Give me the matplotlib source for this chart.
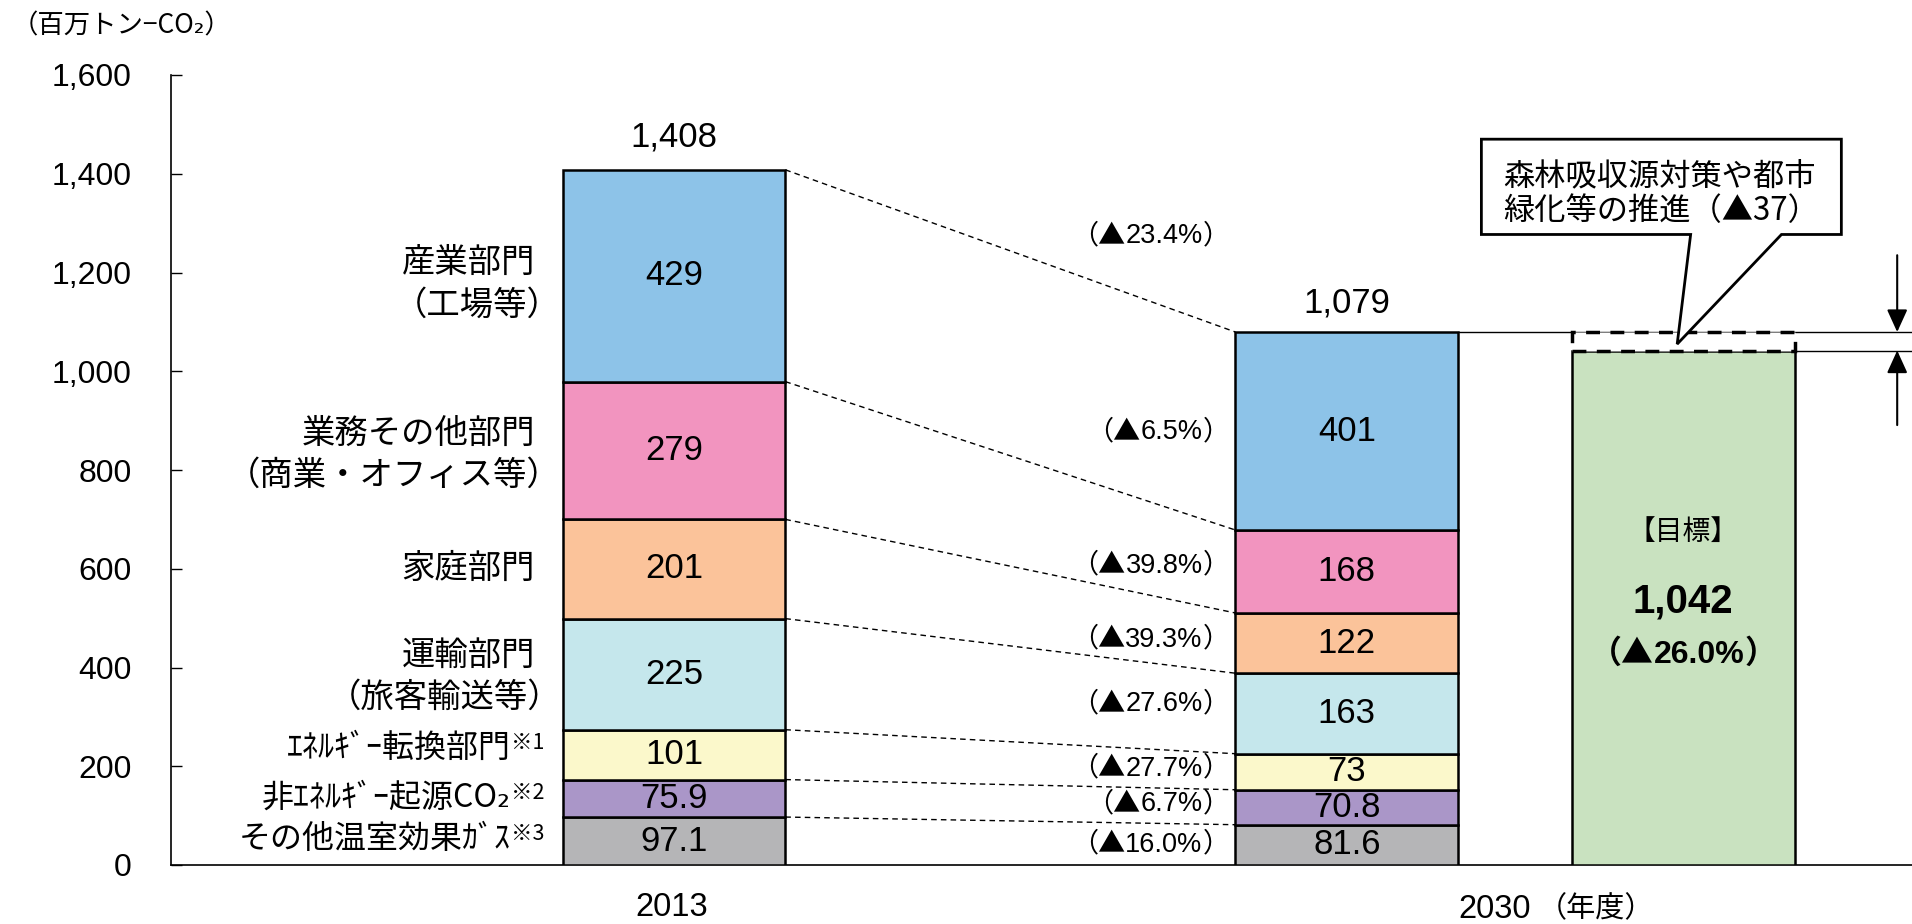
import matplotlib
matplotlib.use('Agg')
import matplotlib.pyplot as plt
from matplotlib.patches import Rectangle, Polygon
from matplotlib.offsetbox import TextArea, HPacker, AnnotationBbox

# ---------------- data ----------------
years = ['2013', '2030']
sectors = ['その他温室効果ｶﾞｽ', '非ｴﾈﾙｷﾞｰ起源CO₂', 'ｴﾈﾙｷﾞｰ転換部門',
           '運輸部門\n（旅客輸送等）', '家庭部門',
           '業務その他部門\n（商業・オフィス等）', '産業部門\n（工場等）']
notes = ['※3', '※2', '※1', '', '', '', '']
values_2013 = [97.1, 75.9, 101, 225, 201, 279, 429]
values_2030 = [81.6, 70.8, 73, 163, 122, 168, 401]
labels_2013 = ['97.1', '75.9', '101', '225', '201', '279', '429']
labels_2030 = ['81.6', '70.8', '73', '163', '122', '168', '401']
reductions = ['16.0%', '6.7%', '27.7%', '27.6%', '39.3%', '39.8%', '6.5%']
total_reduction = '23.4%'
total_2013 = 1408
total_2030 = 1079
target_2030 = 1042
target_reduction = '26.0%'
sink_lines = ['森林吸収源対策や都市', '緑化等の推進（▲37）']
colors = ['#B5B5B7', '#AA96C8', '#FBF8CB', '#C5E7EC', '#FBC39A', '#F294BF', '#8DC3E8']
target_color = '#C9E2C0'

# label positions (y, data units)
sector_label_y = [52, 136, 237, 383, 601, 832, 1177]
reduction_y = [42, 124, 196, 327, 457, 607, 878]
total_reduction_y = 1274

JP = ['Noto Sans CJK JP', 'DejaVu Sans']
NUM = ['Liberation Sans', 'Noto Sans CJK JP', 'DejaVu Sans']

fig = plt.figure(figsize=(19.12, 9.24), dpi=100)
W, H = 1912, 924
ax = fig.add_axes([170.7 / W, 59 / H, (W - 170.7) / W, 790 / H])

x13, x30, xt = 0.0, 1.0, 1.5
bw = 0.331

def stack(x, vals, labels):
    bottom = 0
    tops = []
    for v, lab, c in zip(vals, labels, colors):
        ax.bar(x, v, bottom=bottom, width=bw, color=c, edgecolor='black', linewidth=1.8, zorder=3)
        ax.text(x, bottom + v / 2, lab, ha='center', va='center', fontsize=25, family=NUM, zorder=4)
        bottom += v
        tops.append(bottom)
    return tops

tops13 = stack(x13, values_2013, labels_2013)
tops30 = stack(x30, values_2030, labels_2030)

# connectors
for a, b in zip(tops13, tops30):
    ax.plot([x13 + bw / 2, x30 - bw / 2], [a, b], color='black', lw=1, ls=(0, (4, 3)), zorder=2)

# totals
ax.annotate(f'{total_2013:,}', (x13, tops13[-1]), xytext=(0, 33), textcoords='offset pixels',
            ha='center', va='center', fontsize=25, family=NUM)
ax.annotate(f'{total_2030:,}', (x30, tops30[-1]), xytext=(0, 29), textcoords='offset pixels',
            ha='center', va='center', fontsize=25, family=NUM)

# sector labels (each line right-aligned; full-width ）has a wide right bearing)
x_lab = -0.2065
for s, n, y in zip(sectors, notes, sector_label_y):
    if n:
        ax.annotate(s, (x_lab, y), xytext=(-24, 0), textcoords='offset pixels',
                    ha='right', va='center', fontsize=23, family=JP)
        ax.annotate(n, (x_lab, y), xytext=(-24, 5), textcoords='offset pixels',
                    ha='left', va='center', fontsize=15.5, family=JP)
    else:
        lines = s.split('\n')
        k = len(lines)
        for i, ln in enumerate(lines):
            dy = (k - 1) * 21 - i * 42
            dx = 26 if ln.endswith('）') else 0
            ax.annotate(ln, (x_lab, y), xytext=(dx, dy), textcoords='offset pixels',
                        ha='right', va='center', fontsize=24, family=JP)

# mixed-font reduction labels
def paren_label(x, y, body, size, weight='normal', align=(1, 0.5)):
    jp = dict(family=JP, fontsize=size, fontweight=weight)
    nm = dict(family=['Liberation Sans'], fontsize=size, fontweight=weight)
    box = HPacker(children=[TextArea('（▲', textprops=jp), TextArea(body, textprops=nm),
                            TextArea('）', textprops=jp)],
                  align='baseline', pad=0, sep=0)
    ab = AnnotationBbox(box, (x, y), xycoords='data', box_alignment=align,
                        frameon=False, pad=0, zorder=5)
    ax.add_artist(ab)

for r, y in zip(reductions, reduction_y):
    paren_label(0.826, y, r, 19.5)
paren_label(0.826, total_reduction_y, total_reduction, 19.5)

# target bar
ax.bar(xt, target_2030, width=bw, color=target_color, edgecolor='black', linewidth=1.8, zorder=3)
ax.add_patch(Rectangle((xt - bw / 2, target_2030), bw, tops30[-1] - target_2030,
                       facecolor='white', edgecolor='black', lw=2.5, ls=(0, (4, 3)), zorder=4))
ax.text(xt, 675, '【目標】', ha='center', va='center', fontsize=20, family=JP)
ax.text(xt, 533, f'{target_2030:,}', ha='center', va='center', fontsize=29, fontweight='bold', family=NUM)
paren_label(xt, 428, target_reduction, 23, weight='bold', align=(0.5, 0.5))

xr = 1.84
ax.plot([x30 + bw / 2, xr], [tops30[-1]] * 2, color='black', lw=1, zorder=2)
ax.plot([xt + bw / 2, xr], [target_2030] * 2, color='black', lw=1, zorder=2)
arr = dict(arrowstyle='-|>,head_length=0.55,head_width=0.25', color='black', lw=1.5,
           mutation_scale=25, shrinkA=0, shrinkB=0)
ax.annotate('', xy=(1.818, tops30[-1]), xytext=(1.818, 1235), arrowprops=arr)
ax.annotate('', xy=(1.818, target_2030), xytext=(1.818, 891), arrowprops=arr)

# callout
call = Polygon([(1.200, 1470), (1.735, 1470), (1.735, 1277), (1.646, 1277),
                (1.491, 1055), (1.511, 1277), (1.200, 1277)],
               closed=True, facecolor='white', edgecolor='black', lw=2, zorder=6)
ax.add_patch(call)
for ln, yy in zip(sink_lines, [1395, 1325]):
    ax.text(1.233, yy, ln, ha='left', va='center', fontsize=22.5, family=JP, zorder=7)

# axes
ax.set_xlim(-0.748, xr)
ax.set_ylim(0, 1600)
ax.set_yticks(range(0, 1601, 200))
ax.set_yticklabels([f'{v:,}' for v in range(0, 1601, 200)], fontsize=23, family=NUM)
ax.tick_params(axis='y', direction='in', length=8, width=1, pad=28)
ax.set_xticks([])
for sp in ['top', 'right']:
    ax.spines[sp].set_visible(False)
ax.spines['left'].set_linewidth(1.2)
ax.spines['bottom'].set_linewidth(1.2)

# x labels
ax.annotate(years[0], (-0.004, 0), xytext=(0, -42), textcoords='offset pixels',
            ha='center', va='center', fontsize=23.5, family=NUM, annotation_clip=False)
ax.annotate(years[1], (1.220, 0), xytext=(0, -44.5), textcoords='offset pixels',
            ha='center', va='center', fontsize=23.5, family=NUM, annotation_clip=False)
ax.annotate('（年度）', (1.370, 0), xytext=(0, -44.5), textcoords='offset pixels',
            ha='center', va='center', fontsize=21, family=JP, annotation_clip=False)

fig.text(12 / W, 1 - 26 / H, '（百万トン−CO₂）', ha='left', va='center', fontsize=19, family=JP)

fig.savefig('out.png', dpi=100)
